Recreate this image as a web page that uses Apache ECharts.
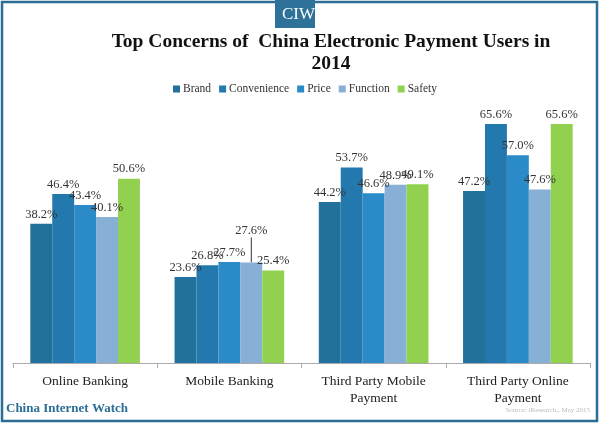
<!DOCTYPE html>
<html>
<head>
<meta charset="utf-8">
<script src="https://cdn.jsdelivr.net/npm/echarts@6/dist/echarts.min.js"></script>
<style>
html,body{margin:0;padding:0;background:#fff;}
#c{width:600px;height:425px;}
</style>
</head>
<body>
<div id="c"></div>
<script>
var categories = ['Online Banking', 'Mobile Banking', 'Third Party Mobile\nPayment', 'Third Party Online\nPayment'];
var brand = [38.2, 23.6, 44.2, 47.2];
var convenience = [46.4, 26.8, 53.7, 65.6];
var price = [43.4, 27.7, 46.6, 57.0];
var func = [40.1, 27.6, 48.9, 47.6];
var safety = [50.6, 25.4, 49.1, 65.6];
var seriesNames = ['Brand', 'Convenience', 'Price', 'Function', 'Safety'];
var colors = ['#22719c', '#2379ad', '#2b8bc8', '#88b0d6', '#92d050'];

var serif = '"Liberation Serif", "DejaVu Serif", serif';
var chart = echarts.init(document.getElementById('c'));
var datas = [brand, convenience, price, func, safety];
var series = seriesNames.map(function (n, i) {
  var data = datas[i].slice();
  var s = {
    name: n, type: 'bar', data: data, barGap: '0%', barCategoryGap: '24%',
    itemStyle: { color: colors[i] },
    label: { show: true, position: 'top', distance: 3, fontFamily: serif, fontSize: 12.5, color: '#333',
      formatter: function (p) { return p.value.toFixed(1) + '%'; } }
  };
  if (n === 'Function') {
    s.data = data.map(function (v, j) {
      return j === 1 ? { value: v, labelLine: { show: true, lineStyle: { color: '#333', width: 1 } } } : { value: v, labelLine: { show: false } };
    });
    s.labelLayout = function (p) { return p.dataIndex === 1 ? { dy: -22 } : {}; };
  }
  return s;
});
chart.setOption({
  animation: false,
  title: {
    text: 'Top Concerns of  China Electronic Payment Users in\n2014',
    left: 326, top: 26, textAlign: 'center',
    textStyle: { fontFamily: serif, fontWeight: 'bold', fontSize: 19.5, color: '#111', lineHeight: 22 }
  },
  legend: {
    data: seriesNames, top: 83, left: 173, itemWidth: 7, itemHeight: 7, itemGap: 8,
    icon: 'rect', textStyle: { fontFamily: serif, fontSize: 11.5, color: '#333', padding: [0, 0, 0, -2] },
    padding: [0, 0, 0, 0]
  },
  grid: { left: 13, right: 10, top: 108, bottom: 62 },
  xAxis: {
    type: 'category', data: categories,
    axisLine: { lineStyle: { color: '#aaa' } },
    axisTick: { show: true, length: 5, lineStyle: { color: '#aaa' } },
    axisLabel: { fontFamily: serif, fontSize: 13.5, color: '#222', lineHeight: 17, margin: 10 }
  },
  yAxis: { type: 'value', min: 0, max: 70, show: false, splitLine: { show: false } },
  series: series,
  graphic: [
    { type: 'rect', shape: { x: 2, y: 2, width: 595, height: 419 }, style: { fill: 'none', stroke: '#2a6e96', lineWidth: 2.5 } },
    { type: 'rect', shape: { x: 275, y: 0, width: 40, height: 28 }, style: { fill: '#2e7199' } },
    { type: 'text', left: 282, top: 6, style: { text: 'CIW', fill: '#fff', font: '17px ' + serif } },
    { type: 'text', left: 6, top: 402, style: { text: 'China Internet Watch', fill: '#2a6e96', font: 'bold 13px ' + serif } },
    { type: 'text', right: 10, top: 407, style: { text: 'Source: iResearch,, May 2015', fill: '#bbb', font: '7px ' + serif } }
  ]
});
</script>
</body>
</html>
